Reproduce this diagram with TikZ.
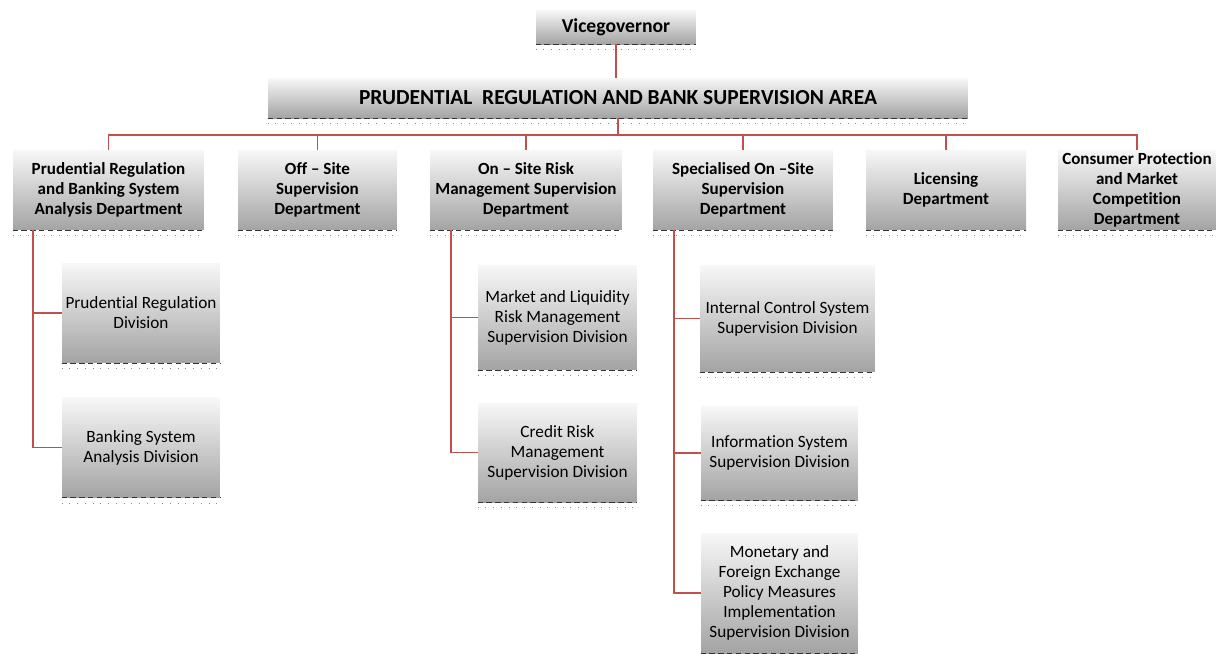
\documentclass[tikz,border=0pt]{standalone}
\usepackage{fontspec}
\setmainfont{Carlito}[Ligatures=CommonOff]
\usepackage{xcolor}
\usepackage{tikz}

\definecolor{linkred}{RGB}{192,80,77}
\tikzset{
  box/.style={top color=white!97!black, bottom color=black!36, inner sep=1pt,
    align=center, font=\fontsize{9.8}{11.4}\selectfont},
  dept/.style={box, font=\bfseries\fontsize{9.7}{11.4}\selectfont, minimum height=1.6cm},
  head/.style={box, font=\bfseries\fontsize{11.2}{13}\selectfont},
  link/.style={draw=linkred, line width=0.8pt},
}

\begin{document}
\begin{tikzpicture}[x=0.02cm, y=-0.02cm]
             \useasboundingbox (0,0) rectangle (1216,653);

             \node[head, minimum width=3.2cm, minimum height=0.68cm] (vg) at (616,27) {Vicegovernor};
             \node[head, font=\bfseries\fontsize{12.2}{14}\selectfont, minimum width=14cm, minimum height=0.8cm] (area) at (618,98) {PRUDENTIAL\ \ REGULATION AND BANK SUPERVISION AREA};

             \node[dept, minimum width=3.82cm] (d1) at (108.5,190) {Prudential Regulation\\and Banking System\\Analysis Department};
             \node[dept, minimum width=3.18cm] (d2) at (317.5,190) {Off -- Site\\Supervision\\Department};
             \node[dept, minimum width=3.84cm] (d3) at (526,190) {On -- Site Risk\\Management Supervision\\Department};
             \node[dept, minimum width=3.6cm] (d4) at (743,190) {Specialised On --Site\\Supervision\\Department};
             \node[dept, minimum width=3.2cm] (d5) at (946,190) {Licensing\\Department};
             \node[dept, minimum width=3.16cm] (d6) at (1137,190) {Consumer Protection\\and Market\\Competition\\Department};

             \node[box, minimum width=3.16cm, minimum height=2cm] (p1) at (141,313) {Prudential Regulation\\Division};
             \node[box, minimum width=3.16cm, minimum height=2cm] (p2) at (141,447.5) {Banking System\\Analysis Division};

             \node[box, minimum width=3.18cm, minimum height=2.1cm] (m1) at (557.5,317.5) {Market and Liquidity\\Risk Management\\Supervision Division};
             \node[box, minimum width=3.18cm, minimum height=1.98cm] (m2) at (557.5,452.5) {Credit Risk\\Management\\Supervision Division};

             \node[box, minimum width=3.5cm, minimum height=2.14cm] (s1) at (787.5,318.5) {Internal Control System\\Supervision Division};
             \node[box, minimum width=3.14cm, minimum height=1.88cm] (s2) at (779.5,453) {Information System\\Supervision Division};
             \node[box, minimum width=3.14cm, minimum height=2.4cm] (s3) at (779.5,593) {Monetary and\\Foreign Exchange\\Policy Measures\\Implementation\\Supervision Division};

             % shadow under the boxes
             \foreach \n in {vg,area,d1,d2,d3,d4,d5,d6,p1,p2,m1,m2,s1,s2,s3} {
               \draw[densely dashed, black!80, line width=0.5pt] (\n.south west) -- (\n.south east);
               \draw[loosely dotted, black!45, line width=0.4pt] ([yshift=-3pt]\n.south west) -- ([yshift=-3pt]\n.south east);
             }

             \draw[link] (vg.south) -- (vg.south |- area.north);
             \coordinate (bus) at (618,135);
             \draw[link] (area.south) -- (bus);
             \foreach \d in {d1,d2,d3,d4,d5,d6}
               \draw[link] (bus) -| (\d.north);

             \coordinate (b1) at (33,230);
             \coordinate (b3) at (451,230);
             \coordinate (b4) at (674,230);
             \draw[link] (b1) |- (p1.west);
             \draw[link] (b1) |- (p2.west);
             \draw[link] (b3) |- (m1.west);
             \draw[link] (b3) |- (m2.west);
             \draw[link] (b4) |- (s1.west);
             \draw[link] (b4) |- (s2.west);
             \draw[link] (b4) |- (s3.west);
\end{tikzpicture}
\end{document}
